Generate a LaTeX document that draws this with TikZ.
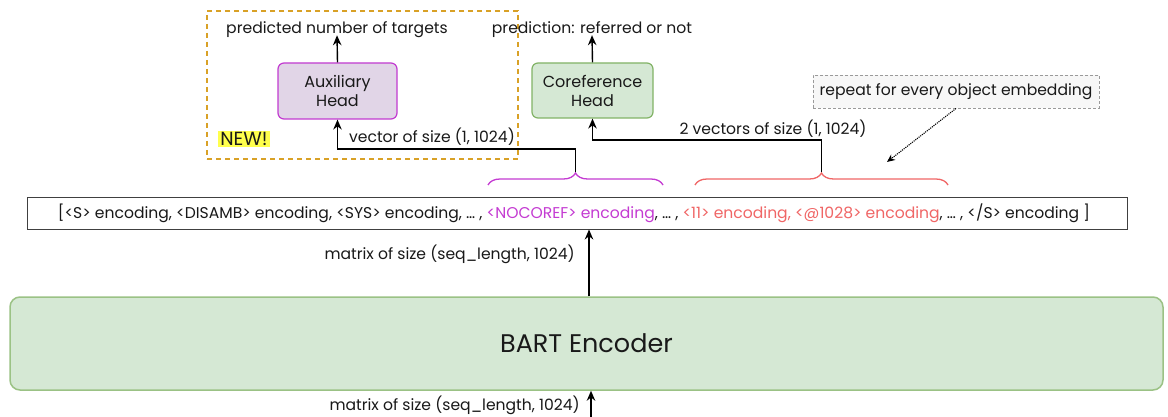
\documentclass[tikz,border=0pt]{standalone}
\usepackage{fontspec}
\setmainfont{Poppins}
\usetikzlibrary{arrows.meta,decorations.pathreplacing,calc}
\definecolor{headgreen}{HTML}{D5E8D4}
\definecolor{headgreenline}{HTML}{82B366}
\definecolor{auxfill}{HTML}{E1D5E7}
\definecolor{auxline}{HTML}{C23BD0}
\definecolor{nocoref}{HTML}{C43BD2}
\definecolor{objred}{HTML}{F06666}
\definecolor{neworange}{HTML}{D9A126}
\definecolor{hiyellow}{HTML}{FFFF4D}
\definecolor{notegray}{HTML}{9A9A9A}
\begin{document}
\begin{tikzpicture}[x=1pt,y=-1pt,
  every node/.style={font=\fontsize{15.6}{18}\selectfont, text=black!90},
  headbox/.style={draw, line width=1.2pt, rounded corners=6pt, inner sep=0pt, align=center, font=\fontsize{16}{19}\selectfont},
  arr/.style={line width=1.4pt, -{Stealth[length=10pt,width=8.5pt]}},
  bracestyle/.style={line width=1.3pt, decorate, decoration={brace, amplitude=12pt}},
  lbl/.style={inner sep=0pt}
]
\useasboundingbox (0,0) rectangle (1168,417);
\fill[white] (0,0) rectangle (1168,417);

% container for the new auxiliary branch
\node[draw=neworange, dashed, line width=1.3pt, dash pattern=on 5pt off 4pt,
      minimum width=311pt, minimum height=148pt, inner sep=0pt] (newarea) at (362.5,85) {};
\node[lbl, fill=hiyellow, inner xsep=2pt, inner ysep=1pt, font=\fontsize{19}{21}\selectfont] (newtag) at (244,139) {NEW!};

% heads
\node[headbox, draw=auxline, fill=auxfill, minimum width=119pt, minimum height=56pt] (aux) at (337.5,91) {Auxiliary\\Head};
\node[headbox, draw=headgreenline, fill=headgreen, minimum width=121pt, minimum height=55pt] (coref) at (592.5,90.5) {Coreference\\Head};

% head outputs
\node[lbl] (auxout) at (337,30) {predicted number of targets};
\node[lbl] (corefout) at (592,30) {prediction: referred or not};
\draw[arr] (aux.north) -- ($(auxout.south)+(0,-3)$);
\draw[arr] (coref.north) -- ($(corefout.south)+(0,-3)$);

% encoder output sequence
\node[draw=black!75, line width=1pt, minimum width=1100pt, minimum height=31pt, inner sep=0pt] (seq) at (577,213.5)
  {\hspace*{-6pt}[{<}S{>} encoding, {<}DISAMB{>} encoding, {<}SYS{>} encoding, \dots\ , \textcolor{nocoref}{{<}NOCOREF{>} encoding}, \dots\ , \textcolor{objred}{{<}11{>} encoding, {<}@1028{>} encoding}, \dots\ , {<}/S{>} encoding ]};

% braces over the selected encodings
\draw[bracestyle, nocoref] (488,185) -- (663,185);
\draw[bracestyle, objred] (695,185) -- (948,185);
\coordinate (magtip) at (575.5,172);
\coordinate (redtip) at (821.5,172);
\coordinate (auxbend) at (575.5,149);
\coordinate (corefbend) at (821.5,140);

\draw[arr] (magtip) -- (auxbend) -| (aux.south);
\draw[arr] (redtip) -- (corefbend) -| (coref.south);
\node[lbl] (auxvec) at (432,137) {vector of size (1, 1024)};
\node[lbl] (corefvec) at (773,129) {2 vectors of size (1, 1024)};

% note
\node[draw=notegray, fill=black!3, densely dashed, line width=0.9pt, minimum width=286pt, minimum height=33pt, inner sep=0pt] (note) at (956,91.5) {repeat for every object embedding};
\coordinate (notetip) at (887,162);
\draw[line width=1.1pt, densely dotted, -{Stealth[length=8pt,width=7pt]}] (note.south) -- (notetip);

% encoder
\node[draw=headgreenline!80, fill=headgreen, line width=1.5pt, rounded corners=10pt,
      minimum width=1153pt, minimum height=93pt, inner sep=0pt, font=\fontsize{25.5}{28}\selectfont] (bart) at (586.5,343.5) {BART Encoder};
\draw[arr] (bart.north -| seq.south) ++(12,0) -- ($(seq.south)+(12,0)$);
\node[lbl, anchor=east] (seqdim) at (575,254) {matrix of size (seq\_length, 1024)};

% encoder input
\coordinate (inbase) at (591,417);
\draw[arr] (inbase) -- (bart.south -| inbase);
\node[lbl, anchor=east] (indim) at (580,405) {matrix of size (seq\_length, 1024)};
\end{tikzpicture}
\end{document}
